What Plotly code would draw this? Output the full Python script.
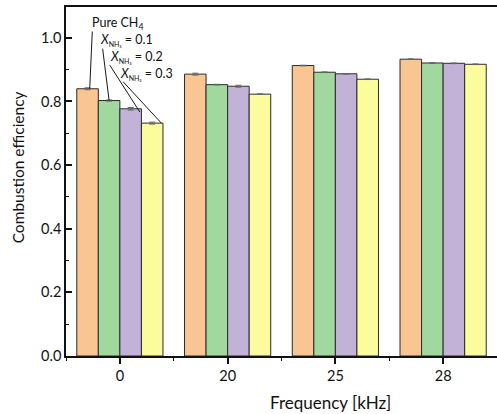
import plotly.graph_objects as go

# Data
frequencies = ["0", "20", "25", "28"]
sub = "<span style='font-size:7px'>NH₃</span>"
series_names = ["Pure CH<sub>4</sub>",
                f"<i>X</i><sub>{sub}</sub> = 0.1",
                f"<i>X</i><sub>{sub}</sub> = 0.2",
                f"<i>X</i><sub>{sub}</sub> = 0.3"]
pure_ch4 = [0.840, 0.886, 0.913, 0.933]
x_nh3_01 = [0.803, 0.853, 0.892, 0.921]
x_nh3_02 = [0.777, 0.848, 0.887, 0.920]
x_nh3_03 = [0.732, 0.823, 0.870, 0.917]
err_ch4 = [0.003, 0.003, 0.001, 0.001]
err_01 = [0.002, 0.001, 0.001, 0.001]
err_02 = [0.004, 0.003, 0.001, 0.001]
err_03 = [0.003, 0.001, 0.001, 0.001]

colors = ["#F9C592", "#A0D89D", "#C3B2D7", "#FBFC9E"]
values = [pure_ch4, x_nh3_01, x_nh3_02, x_nh3_03]
errors = [err_ch4, err_01, err_02, err_03]

FONT = "Lato"
xpos = list(range(len(frequencies)))

fig = go.Figure()
for name, vals, errs, col in zip(series_names, values, errors, colors):
    fig.add_trace(go.Bar(
        x=xpos, y=vals, name=name,
        marker=dict(color=col, line=dict(color="#2b2b2b", width=1)),
        error_y=dict(type="data", array=errs, visible=True,
                     color="#666666", thickness=1, width=3),
    ))

# Leader lines from the series labels down to the first group of bars
offsets = [-0.3, -0.1, 0.1, 0.3]
leaders = [
    # (x at label, y at label, x at bar, series index)
    (-0.256, 1.020, offsets[0] + 0.02, 0),
    (-0.160, 0.966, offsets[1] + 0.0, 1),
    (-0.093, 0.914, offsets[2] + 0.085, 2),
    (0.030, 0.862, offsets[3] + 0.085, 3),
]
for x0, y0, x1, i in leaders:
    yb = values[i][0] - (0.01 if i == 2 else 0.0)
    fig.add_shape(type="line", xref="x", yref="y", x0=x0, y0=y0, x1=x1, y1=yb,
                  line=dict(color="#1a1a1a", width=1))

label_pos = [(-0.265, 1.045), (-0.19, 0.993), (-0.10, 0.940), (-0.01, 0.887)]
for (lx, ly), name in zip(label_pos, series_names):
    fig.add_annotation(x=lx, y=ly, xref="x", yref="y", text=name,
                       showarrow=False, xanchor="left", yanchor="middle",
                       borderpad=0,
                       font=dict(family=FONT, size=12.5, color="#111111"))

# Axis titles
fig.add_annotation(x=0.613, y=-0.132, xref="paper", yref="paper",
                   text="Frequency [kHz]", showarrow=False,
                   xanchor="center", yanchor="middle",
                   font=dict(family=FONT, size=17, color="#111111"))
fig.add_annotation(x=-0.111, y=0.541, xref="paper", yref="paper",
                   text="Combustion efficiency", textangle=-90, showarrow=False,
                   xanchor="center", yanchor="middle",
                   font=dict(family=FONT, size=15.5, color="#111111"))

fig.update_layout(
    width=497, height=414,
    margin=dict(l=66, r=0, t=7, b=58),
    paper_bgcolor="white", plot_bgcolor="white",
    barmode="group", bargap=0.2, bargroupgap=0,
    showlegend=False,
    font=dict(family=FONT, size=14, color="#111111"),
    xaxis=dict(
        range=[-0.5, 3.5], tickvals=xpos, ticktext=frequencies,
        showline=True, linecolor="#111111", linewidth=1.6, mirror=True,
        ticks="outside", ticklen=6, tickwidth=1.5, tickcolor="#111111",
        minor=dict(tick0=0.5, dtick=1, ticks="outside", ticklen=3,
                   tickwidth=1, tickcolor="#111111"),
        showgrid=False, zeroline=False, fixedrange=True,
        tickfont=dict(family=FONT, size=14.5),
    ),
    yaxis=dict(
        range=[0, 1.097], tickvals=[0, 0.2, 0.4, 0.6, 0.8, 1.0],
        tickformat=".1f",
        showline=True, linecolor="#111111", linewidth=1.6, mirror=False,
        ticks="inside", ticklen=6, tickwidth=1.5, tickcolor="#111111",
        minor=dict(dtick=0.1, ticks="inside", ticklen=3, tickwidth=1,
                   tickcolor="#111111"),
        showgrid=False, zeroline=False,
        tickfont=dict(family=FONT, size=14.5),
    ),
)

fig.write_html("out.html")
